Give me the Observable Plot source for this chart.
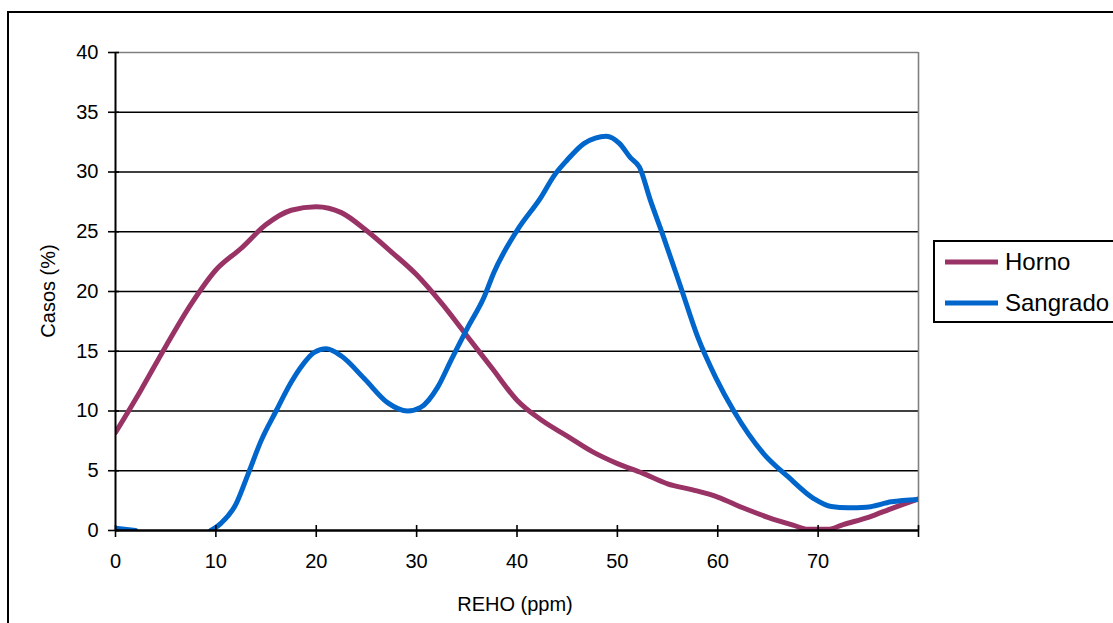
<!DOCTYPE html>
<html>
<head>
<meta charset="utf-8">
<script src="https://cdn.jsdelivr.net/npm/d3@7"></script>
<script src="https://cdn.jsdelivr.net/npm/@observablehq/plot@0.6"></script>
<style>
  html, body { margin: 0; padding: 0; background: #fff; overflow: hidden; }
  #chart svg { display: block; }
</style>
</head>
<body>
<div id="chart"></div>
<script>
// Series names and colours
const seriesNames = ["Horno", "Sangrado"];
const seriesColors = ["#993366", "#0066CC"];

// Horno: REHO (ppm) vs cases (%)
const hornoX = [0, 2.5, 5, 7.5, 10, 12.5, 15, 17.5, 20, 22.5, 25, 27.5, 30, 32.5, 35, 37.5, 40, 42.5, 45, 47.5, 50, 52.5, 55, 57.5, 60, 62.5, 65, 67.5, 69, 71, 72.5, 75, 77.5, 80];
const hornoY = [8.2, 11.7, 15.4, 18.9, 21.8, 23.6, 25.6, 26.8, 27.1, 26.6, 25.1, 23.3, 21.4, 19.0, 16.3, 13.6, 10.9, 9.2, 7.9, 6.6, 5.6, 4.8, 3.9, 3.4, 2.8, 1.9, 1.1, 0.45, 0.1, 0.1, 0.5, 1.1, 1.9, 2.65];

// Sangrado: REHO (ppm) vs cases (%); null = no value (gap in the line)
const sangradoX = [0, 2, 5, 9.5, 10.5, 12, 13.2, 14.5, 16, 17.5, 18.5, 19.8, 21, 22.5, 24.8, 27.1, 29.1, 30.4, 32.1, 33.4, 35.1, 36.7, 37.7, 40, 42.4, 43.7, 45, 46.7, 48.9, 50.2, 51.3, 52.2, 53.3, 54.5, 56.3, 58, 59.8, 61.6, 64.6, 67, 69.6, 71.3, 73, 74.8, 77.3, 80];
const sangradoY = [0.2, 0, null, 0, 0.6, 2.2, 4.7, 7.5, 10.0, 12.4, 13.7, 14.9, 15.2, 14.6, 12.7, 10.7, 10.0, 10.3, 12.0, 14.2, 17.0, 19.5, 21.6, 25.1, 27.9, 29.7, 31.0, 32.4, 33.0, 32.4, 31.2, 30.4, 27.6, 24.8, 20.4, 16.2, 12.8, 10.0, 6.4, 4.5, 2.65, 2.0, 1.9, 1.95, 2.4, 2.6];

// Axis ticks
const xTicks = [0, 10, 20, 30, 40, 50, 60, 70, 80];
const xTickLabels = [0, 10, 20, 30, 40, 50, 60, 70];
const yTicks = [0, 5, 10, 15, 20, 25, 30, 35, 40];
const xTitle = "REHO (ppm)";
const yTitle = "Casos (%)";

const rows = [
  ...hornoX.map((x, i) => ({series: seriesNames[0], x, y: hornoY[i]})),
  ...sangradoX.map((x, i) => ({series: seriesNames[1], x, y: sangradoY[i]}))
];

const W = 1113, H = 623;
const mL = 115, mT = 52, mR = 195, mB = 93;
const frameW = W - mL - mR, frameH = H - mT - mB;
const font = "'Liberation Sans', Arial, sans-serif";

const chart = Plot.plot({
  width: W,
  height: H,
  marginLeft: mL,
  marginTop: mT,
  marginRight: mR,
  marginBottom: mB,
  style: {fontFamily: font, fontSize: "20px", color: "#000", background: "#fff"},
  x: {domain: [0, 80]},
  y: {domain: [0, 40]},
  color: {domain: seriesNames, range: seriesColors},
  marks: [
    // horizontal gridlines
    Plot.ruleY(yTicks.filter(d => d > 0 && d < 40), {y: d => d, stroke: "#000", strokeWidth: 1.6}),
    // plot-area border (top and right)
    Plot.ruleY([40], {y: d => d, stroke: "#808080", strokeWidth: 1.6}),
    Plot.ruleX([80], {x: d => d, stroke: "#808080", strokeWidth: 1.6}),
    // series
    Plot.line(rows, {x: "x", y: "y", z: "series", stroke: "series", curve: "monotone-x",
      strokeWidth: 5, strokeLinejoin: "round", clip: true}),
    // axis lines
    Plot.ruleX([0], {x: d => d, stroke: "#000", strokeWidth: 2}),
    Plot.ruleY([0], {y: d => d, stroke: "#000", strokeWidth: 2.5}),
    // tick marks crossing the axes
    Plot.ruleX(xTicks, {x: d => d, stroke: "#000", strokeWidth: 1.6, insetTop: frameH - 5, insetBottom: -7}),
    Plot.ruleY(yTicks, {y: d => d, stroke: "#000", strokeWidth: 1.6, insetLeft: -7, insetRight: frameW - 4}),
    // tick labels
    Plot.axisX({ticks: xTickLabels, tickSize: 0, tickPadding: 23, label: null, fontSize: 20}),
    Plot.axisY({ticks: yTicks, tickSize: 0, tickPadding: 17, label: null, fontSize: 20})
  ]
});

const svg = d3.select(chart);

// axis titles
svg.append("text")
  .attr("x", 515).attr("y", 611)
  .attr("text-anchor", "middle")
  .attr("font-family", font).attr("font-size", 20).attr("fill", "#000")
  .text(xTitle);
svg.append("text")
  .attr("transform", `translate(55,${mT + frameH / 2}) rotate(-90)`)
  .attr("text-anchor", "middle")
  .attr("font-family", font).attr("font-size", 20).attr("fill", "#000")
  .text(yTitle);

// legend
const legend = svg.append("g");
legend.append("rect")
  .attr("x", 934).attr("y", 241).attr("width", 260).attr("height", 81)
  .attr("fill", "#fff").attr("stroke", "#000").attr("stroke-width", 2);
const legendY = [262, 303];
seriesNames.forEach((name, i) => {
  legend.append("line")
    .attr("x1", 945).attr("x2", 998).attr("y1", legendY[i]).attr("y2", legendY[i])
    .attr("stroke", seriesColors[i]).attr("stroke-width", 5);
  legend.append("text")
    .attr("x", 1005).attr("y", legendY[i]).attr("dy", "0.35em")
    .attr("text-anchor", "start")
    .attr("font-family", font).attr("font-size", 24).attr("fill", "#000")
    .text(name);
});

// outer chart border
svg.append("rect")
  .attr("x", 8).attr("y", 12).attr("width", 1300).attr("height", 800)
  .attr("fill", "none").attr("stroke", "#000").attr("stroke-width", 2);

document.getElementById("chart").appendChild(chart);
</script>
</body>
</html>
